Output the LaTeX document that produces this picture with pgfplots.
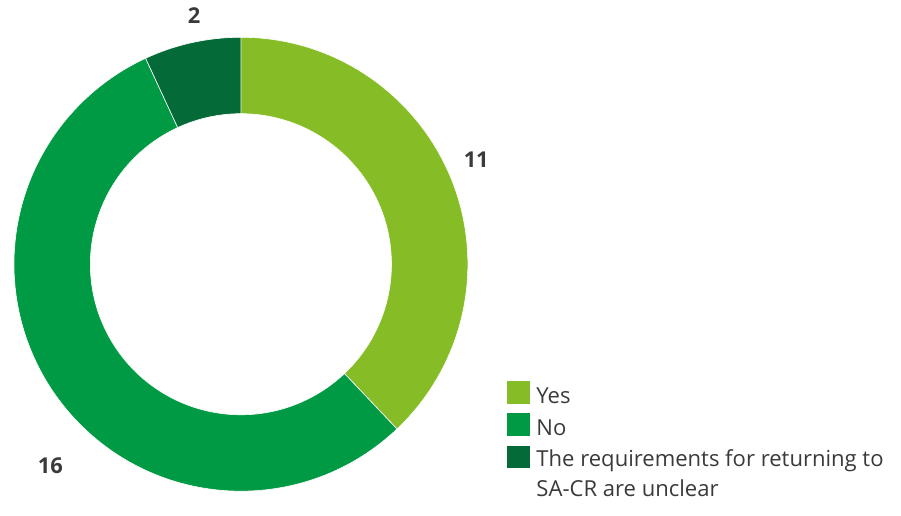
\documentclass[border=0pt]{standalone}
\usepackage{pgfplots}
\pgfplotsset{compat=1.18}
\usepackage{pgfplotstable}
\usetikzlibrary{calc}
\usepackage{fontspec}
\setmainfont{Open Sans}
\definecolor{cYes}{HTML}{86BC25}
\definecolor{cNo}{HTML}{009A44}
\definecolor{cUnc}{HTML}{046A38}
\definecolor{txt}{HTML}{3A3A3A}
\definecolor{lbl}{HTML}{3A3A3A}

\pgfplotstableread{
label value
Yes 11
No 16
Unclear 2
}\piedata

\begin{document}
\begin{tikzpicture}
\pgfplotstablegetelem{0}{value}\of\piedata \pgfmathtruncatemacro\vA{\pgfplotsretval}
\pgfplotstablegetelem{1}{value}\of\piedata \pgfmathtruncatemacro\vB{\pgfplotsretval}
\pgfplotstablegetelem{2}{value}\of\piedata \pgfmathtruncatemacro\vC{\pgfplotsretval}
\pgfmathsetmacro\tot{\vA+\vB+\vC}
\pgfmathsetmacro\aA{90}
\pgfmathsetmacro\aB{90-360*\vA/\tot}
\pgfmathsetmacro\aC{\aB-360*\vB/\tot}
\pgfmathsetmacro\aD{\aC-360*\vC/\tot}
\begin{axis}[x=0.5bp,y=0.5bp,xmin=0,xmax=901,ymin=0,ymax=508,hide axis,clip=false]
\addplot[draw=none] coordinates {(0,0)(901,508)};
% wedges
\fill[cYes,draw=white,line width=0.3pt] ($(axis cs:239,243)+(\aA:113.8bp)$) arc[start angle=\aA,end angle=\aB,radius=113.8bp] -- ($(axis cs:239,243)+(\aB:75.5bp)$) arc[start angle=\aB,end angle=\aA,radius=75.5bp] -- cycle;
\fill[cNo,draw=white,line width=0.3pt] ($(axis cs:239,243)+(\aB:113.8bp)$) arc[start angle=\aB,end angle=\aC,radius=113.8bp] -- ($(axis cs:239,243)+(\aC:75.5bp)$) arc[start angle=\aC,end angle=\aB,radius=75.5bp] -- cycle;
\fill[cUnc,draw=white,line width=0.3pt] ($(axis cs:239,243)+(\aC:113.8bp)$) arc[start angle=\aC,end angle=\aD,radius=113.8bp] -- ($(axis cs:239,243)+(\aD:75.5bp)$) arc[start angle=\aD,end angle=\aC,radius=75.5bp] -- cycle;
% value labels
\node[font=\bfseries\fontsize{11}{13}\selectfont,text=lbl] at (axis cs:192,492) {\vC};
\node[font=\bfseries\fontsize{11}{13}\selectfont,text=lbl] at (axis cs:475,348) {\vA};
\node[font=\bfseries\fontsize{11}{13}\selectfont,text=lbl] at (axis cs:48,41) {\vB};
% legend
\fill[cYes] (axis cs:506,103) rectangle (axis cs:529,126);
\fill[cNo] (axis cs:506,71) rectangle (axis cs:529,94);
\fill[cUnc] (axis cs:506,39) rectangle (axis cs:529,61);
\node[anchor=base west,inner sep=0pt,font=\fontsize{11.1}{14}\selectfont,text=txt] at (axis cs:535,103) {Yes};
\node[anchor=base west,inner sep=0pt,font=\fontsize{11.1}{14}\selectfont,text=txt] at (axis cs:535,71) {No};
\node[anchor=base west,inner sep=0pt,font=\fontsize{11.1}{14}\selectfont,text=txt] at (axis cs:535,40) {The requirements for returning to};
\node[anchor=base west,inner sep=0pt,font=\fontsize{11.1}{14}\selectfont,text=txt] at (axis cs:535,10) {SA-CR are unclear};
\end{axis}
\end{tikzpicture}
\end{document}
